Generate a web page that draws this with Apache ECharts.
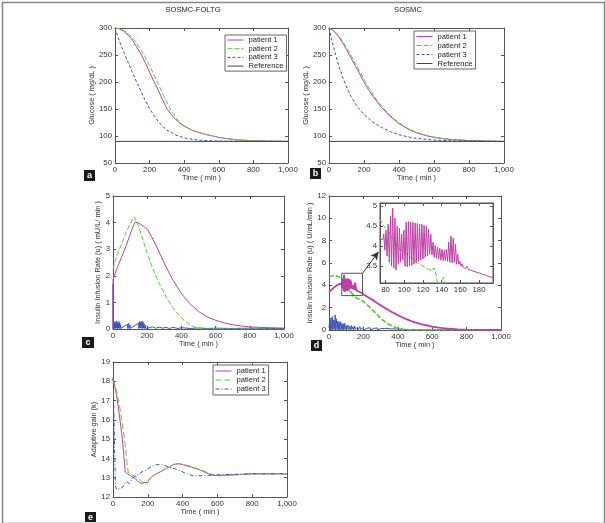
<!DOCTYPE html>
<html><head><meta charset="utf-8">
<script src="https://cdn.jsdelivr.net/npm/echarts@6/dist/echarts.min.js"></script>
<style>html,body{margin:0;padding:0;background:#fff}#c{width:605px;height:523px}</style>
</head><body><div id="c"></div>
<script>
// ---------------- DATA ----------------
const legendNames = ['patient 1','patient 2','patient 3','Reference'];
const glucoseRef = 90;
// Panel a : SOSMC-FOLTG glucose
const aP1 = [[0,300],[25,298.5],[50,294],[75,287],[100,278],[125,265],[150,252],[175,236],[200,218],[225,201],[250,185],[275,167],[300,151],[325,140],[350,131],[375,124],[400,118],[450,110],[500,105],[550,101],[600,97.5],[650,95],[700,93],[800,91.2],[900,90.4],[1000,90]];
const aP2 = [[0,300],[25,299],[50,296],[75,290],[100,282],[125,272],[150,259],[175,246],[200,230],[225,213],[250,196],[275,179],[300,162],[325,147],[350,135],[375,125],[400,119],[450,110],[500,105],[550,101],[600,97.5],[650,95],[700,93],[800,91.2],[900,90.4],[1000,90]];
const aP3 = [[0,300],[25,276],[50,256],[75,237],[100,218],[125,200],[150,183],[175,166],[200,151],[225,138],[250,127],[275,118],[300,111],[350,102],[400,96.5],[450,93.5],[500,92],[550,91],[600,90.5],[700,90.2],[800,90],[1000,90]];
// Panel b : SOSMC glucose
const bP1 = [[0,300],[25,295],[50,286],[75,274],[100,260],[125,245],[150,230],[175,215],[200,200],[225,186],[250,174],[275,163],[300,153],[350,136],[400,123],[450,113],[500,106],[550,101],[600,97.5],[650,95],[700,93.5],[800,91.5],[900,90.5],[1000,90]];
const bP2 = [[0,300],[25,296],[50,288],[75,277],[100,264],[125,250],[150,235],[175,220],[200,205],[225,191],[250,178],[275,166],[300,156],[350,138],[400,124.5],[450,114],[500,107],[550,101.5],[600,98],[650,95.5],[700,93.7],[800,91.5],[900,90.5],[1000,90]];
const bP3 = [[0,300],[20,272],[40,248],[60,226],[80,207],[100,191],[125,174],[150,160],[175,149],[200,140],[250,126],[300,116],[350,108],[400,102.5],[450,98.5],[500,95.5],[600,92.5],[700,91],[800,90.4],[1000,90]];
// Panel c : SOSMC-FOLTG insulin
const cP1 = [[0,0],[0.5,1.85],[10,2.05],[25,2.3],[50,2.7],[75,3.1],[100,3.55],[120,3.9],[130,4.02],[150,3.98],[175,3.88],[200,3.75],[225,3.48],[250,3.16],[275,2.82],[300,2.48],[325,2.15],[350,1.85],[375,1.58],[400,1.33],[450,0.95],[500,0.66],[550,0.46],[600,0.33],[650,0.23],[700,0.16],[750,0.11],[800,0.08],[900,0.05],[1000,0.03]];
const cP2 = [[0,2.25],[10,2.5],[25,2.8],[50,3.2],[75,3.6],[100,3.95],[125,4.22],[133,4.27],[150,3.85],[175,3.35],[200,2.85],[225,2.4],[250,2.0],[275,1.65],[300,1.35],[325,1.05],[350,0.8],[375,0.6],[400,0.42],[425,0.28],[450,0.16],[475,0.07],[500,0.02],[525,0],[1000,0]];
const cP3 = [[0,0],[0.5,1.7],[2,0.05],[8,0.22],[9,0.02],[12,0.28],[13,0.03],[16,0.18],[17,0.02],[20,0.3],[21,0.03],[25,0.25],[26,0.02],[30,0.2],[31,0.03],[35,0.28],[36,0.02],[40,0.22],[41,0.02],[45,0.15],[46,0.02],[85,0.18],[86,0.02],[92,0.22],[93,0.02],[100,0.15],[101,0.02],[150,0.22],[151,0.02],[156,0.28],[157,0.03],[162,0.25],[163,0.03],[170,0.3],[171,0.02],[176,0.26],[177,0.03],[182,0.2],[183,0.02],[190,0.15],[191,0.03],[200,0.1],[210,0.04],[230,0.08],[250,0.03],[270,0.07],[290,0.03],[310,0.06],[330,0.02],[350,0.06],[380,0.02],[400,0.05],[450,0.02],[500,0.04],[550,0.02],[600,0.03],[700,0.02],[800,0.03],[900,0.02],[1000,0.02]];
// Panel d : SOSMC insulin
const dP1 = [[0,3.4],[10,3.55],[25,3.75],[40,3.93],[55,4.08],[65,4.15],[74,4.17],[77,4.17],
[78,4.3],[79.2,3.9],[80.4,4.4],[81.6,3.75],[82.8,4.55],[84,3.6],[85.2,4.75],[86.4,3.5],[87.6,4.95],[88.8,3.45],[90,4.7],[91.2,3.4],[92.4,4.5],[93.6,3.55],[94.8,4.45],[96,3.6],[97.2,4.3],[98.4,3.65],[99.6,4.4],[100.8,3.5],[102,4.6],[103.2,3.48],[104.4,4.62],[105.6,3.5],[106.8,4.6],[108,3.52],[109.2,4.6],[110.4,3.55],[111.6,4.58],[112.8,3.58],[114,4.57],[115.2,3.62],[116.4,4.55],[117.6,3.65],[118.8,4.55],[120,3.68],[121.2,4.52],[122.4,3.72],[123.6,4.5],[124.8,3.76],[126,4.42],[127.2,3.8],[128.4,4.3],[129.6,3.78],[130.8,4.1],[132,3.72],[133.2,4.02],[134.4,3.7],[135.6,3.98],[136.8,3.68],[138,3.95],[139.2,3.65],[140.4,3.92],[141.6,3.64],[142.8,3.9],[144,3.64],[145.2,3.92],[146.4,3.62],[147.6,4.1],[148.8,3.6],[150,4.25],[151.2,3.58],[152.4,4.2],[153.6,3.6],[154.8,4.05],[156,3.55],[157.2,3.8],[158.4,3.55],[159.6,3.62],[160.8,3.5],[162,3.56],[163.2,3.47],[164.4,3.52],[165.6,3.44],[167,3.5],[168.5,3.42],[170,3.47],[171.5,3.4],[173,3.45],[174.5,3.37],[176,3.42],[177.5,3.35],[179,3.4],[180.5,3.33],[182,3.38],[183.5,3.3],[185,3.35],[186.5,3.28],[188,3.33],[189.5,3.25],[191,3.3],[192.5,3.23],[194,3.28],[195.5,3.22],
[200,3.2],[225,2.95],[250,2.72],[275,2.47],[300,2.22],[325,1.98],[350,1.75],[375,1.53],[400,1.33],[425,1.14],[450,0.97],[475,0.82],[500,0.69],[550,0.47],[600,0.31],[650,0.19],[700,0.11],[750,0.06],[800,0.03],[900,0.01],[1000,0]];
const dP2 = [[0,4.75],[10,4.85],[25,4.88],[40,4.85],[50,4.8],[60,4.74],[70,4.7],[74,4.67],[78,4.5],[82,4.42],[86,4.25],[90,4.12],[94,3.95],[98,3.88],[102,3.8],[106,3.72],[110,3.66],[114,3.58],[118,3.53],[122,3.47],[126,3.42],[130,3.38],[132,3.46],[134,3.3],[136,3.0],[138,2.92],[140,3.1],[142,3.22],[144,3.2],[146,2.96],[150,2.9],[175,2.76],[200,2.55],[225,2.2],[250,1.85],[275,1.45],[300,1.05],[325,0.75],[350,0.5],[375,0.3],[400,0.16],[425,0.06],[450,0.01],[475,0],[1000,0]];
const dP3 = [[0,0.2],[5,1.0],[7,0],[12,1.1],[14,0.05],[20,1.2],[22,0],[28,0.9],[30,0.05],[36,1.35],[38,0],[44,1.0],[46,0.05],[52,0.8],[54,0],[60,0.7],[62,0.05],[68,0.75],[70,0],[76,0.6],[78,0.05],[84,0.55],[86,0],[92,0.6],[94,0.05],[100,0.4],[102,0],[110,0.45],[112,0.05],[120,0.35],[122,0],[130,0.4],[132,0.05],[140,0.3],[142,0],[150,0.35],[152,0.05],[165,0.25],[167,0],[180,0.3],[182,0.05],[200,0.2],[202,0],[220,0.15],[222,0.05],[240,0.2],[242,0],[260,0.15],[262,0.03],[280,0.18],[282,0],[300,0.12],[302,0.03],[330,0.15],[332,0],[360,0.1],[362,0.03],[390,0.1],[392,0],[420,0.08],[422,0.02],[450,0.05],[480,0.02],[520,0.01],[1000,0]];
// Panel d inset range
const insetX = [74,195];
const insetY = [3.08,5.08];
const insetXTicks = [80,100,120,140,160,180];
const insetYTicks = [3.5,4,4.5,5];
// Panel e : adaptive gain
const eP1 = [[0,18.1],[10,17.75],[20,17.3],[30,16.7],[40,16.0],[50,15.3],[60,14.4],[70,13.3],[80,13.2],[100,13.1],[120,13.0],[140,12.85],[160,12.7],[170,12.65],[180,12.75],[190,12.65],[200,12.75],[210,12.95],[230,13.1],[250,13.2],[300,13.45],[350,13.7],[380,13.72],[400,13.68],[450,13.55],[500,13.4],[550,13.2],[575,13.12],[600,13.12],[650,13.13],[700,13.15],[800,13.2],[900,13.2],[1000,13.2]];
const eP2 = [[0,18.1],[10,17.85],[20,17.5],[30,17.1],[40,16.6],[50,16.0],[60,15.4],[70,14.7],[80,13.8],[88,13.25],[100,13.2],[120,13.1],[140,13.0],[160,12.85],[175,12.7],[185,12.65],[195,12.7],[210,12.95],[230,13.1],[250,13.2],[300,13.45],[350,13.7],[380,13.73],[400,13.7],[450,13.58],[500,13.42],[550,13.25],[590,13.1],[620,13.1],[700,13.15],[800,13.2],[1000,13.2]];
const eP3 = [[0,18.2],[3,17.5],[8,15],[14,12.6],[20,12.4],[40,12.42],[55,12.5],[65,12.6],[75,12.8],[85,12.85],[95,12.7],[105,12.75],[115,13.0],[130,13.1],[150,13.2],[175,13.35],[200,13.45],[225,13.6],[250,13.68],[275,13.68],[300,13.62],[350,13.48],[400,13.3],[430,13.18],[460,13.1],[500,13.1],[550,13.12],[600,13.15],[700,13.18],[800,13.2],[1000,13.2]];

// ---------------- STYLE / BUILD ----------------
const FONT = '"Liberation Sans", Arial, sans-serif';
const AX = '#555';
const C1 = '#bf3fa6', C2 = '#5ec83a', C3 = '#3a55b8', CR = '#444';
const xAxes = [], yAxes = [], grids = [], series = [];

function addGrid(g){ grids.push(Object.assign({outerBoundsMode:'none', containLabel:false}, g)); return grids.length-1; }
function axisBase(gi, min, max, interval, pos, show, zl){
  const o = {type:'value', gridIndex:gi, min, max, interval, position:pos,
    axisLine:{show:true,onZero:false,lineStyle:{color:AX,width:1}},
    axisTick:{show:true,inside:true,length:3,lineStyle:{color:AX}},
    axisLabel:{show:show,fontSize:7.8,color:'#333',margin:3,fontFamily:FONT},
    splitLine:{show:false}};
  if (zl) o.zlevel = zl;
  return o;
}
function addAxes(gi, xr, yr, xname, yname, yGap, zl){
  const xa = axisBase(gi, xr[0], xr[1], xr[2], 'bottom', true, zl);
  if (xname){ Object.assign(xa,{name:xname,nameLocation:'middle',nameGap:11,nameTextStyle:{fontSize:7.4,color:'#333',fontFamily:FONT}}); }
  const ya = axisBase(gi, yr[0], yr[1], yr[2], 'left', true, zl);
  if (yname){ Object.assign(ya,{name:yname,nameLocation:'middle',nameGap:yGap,nameTextStyle:{fontSize:7.4,color:'#333',fontFamily:FONT}}); }
  xAxes.push(xa); const xi = xAxes.length-1;
  xAxes.push(axisBase(gi, xr[0], xr[1], xr[2], 'top', false, zl));
  yAxes.push(ya); const yi = yAxes.length-1;
  yAxes.push(axisBase(gi, yr[0], yr[1], yr[2], 'right', false, zl));
  return [xi, yi];
}
function addLine(ax, name, data, color, type, width, extra){
  series.push(Object.assign({type:'line', name, data, xAxisIndex:ax[0], yAxisIndex:ax[1],
    symbol:'none', showSymbol:false, silent:true, animation:false,
    lineStyle:{color, type, width:width||1}, itemStyle:{color}}, extra||{}));
}

// a
const ga = addGrid({left:115, top:28, width:173, height:135});
const axa = addAxes(ga, [0,1000,200], [50,300,50], 'Time ( min )', 'Glucose ( mg/dL )', 16);
addLine(axa,'patient 1',aP1,C1,'solid');
addLine(axa,'patient 2',aP2,C2,[5,2]);
addLine(axa,'patient 3',aP3,C3,[3,2]);
addLine(axa,'Reference',[[0,glucoseRef],[1000,glucoseRef]],CR,'solid');
// b
const gb = addGrid({left:329, top:28, width:175, height:135});
const axb = addAxes(gb, [0,1000,200], [50,300,50], 'Time ( min )', 'Glucose ( mg/dL )', 17);
addLine(axb,'patient 1',bP1,C1,'solid');
addLine(axb,'patient 2',bP2,C2,[5,2]);
addLine(axb,'patient 3',bP3,C3,[3,2]);
addLine(axb,'Reference',[[0,glucoseRef],[1000,glucoseRef]],CR,'solid');
// c
const gc = addGrid({left:113, top:196, width:171, height:133});
const axc = addAxes(gc, [0,1000,200], [0,5,1], 'Time ( min )', 'Insulin Infusion Rate (u) ( mU/L/ min )', 12);
addLine(axc,'patient 3',cP3,C3,'solid');
addLine(axc,'patient 2',cP2,C2,[5,2]);
addLine(axc,'patient 1',cP1,C1,'solid');
// d
const gd = addGrid({left:329, top:196, width:172, height:134});
const axd = addAxes(gd, [0,1000,200], [0,12,2], 'Time ( min )', 'Insulin Infusion Rate (u) ( U/mL/min )', 13);
addLine(axd,'patient 3',dP3,C3,'solid');
addLine(axd,'patient 2',dP2,C2,[5,2],1.7);
addLine(axd,'patient 1',dP1,C1,'solid',1.8);
addLine(axd,'',[[insetX[0],insetY[0]],[insetX[1],insetY[0]],[insetX[1],insetY[1]],[insetX[0],insetY[1]],[insetX[0],insetY[0]]],'#555','solid',1,
  {markLine:{silent:true,symbol:['none','arrow'],symbolSize:[6,8],label:{show:false},lineStyle:{color:'#333',type:'solid',width:1},
   data:[[{coord:[insetX[1],insetY[1]]},{coord:[288,7.0]}]]}});
// inset
const gi = addGrid({left:380, top:203, width:113, height:80, show:true, backgroundColor:'#fff', borderColor:AX, borderWidth:1, zlevel:1});
const axi = addAxes(gi, [insetX[0],insetX[1],20], [insetY[0],insetY[1],0.5], null, null, 0, 1);
xAxes[axi[0]].interval = undefined; yAxes[axi[1]].interval = undefined;
xAxes[axi[0]].axisLabel.customValues = insetXTicks; xAxes[axi[0]].axisTick.customValues = insetXTicks;
xAxes[axi[0]+1].axisTick.customValues = insetXTicks; xAxes[axi[0]+1].interval = undefined;
yAxes[axi[1]].axisLabel.customValues = insetYTicks; yAxes[axi[1]].axisTick.customValues = insetYTicks;
yAxes[axi[1]+1].axisTick.customValues = insetYTicks; yAxes[axi[1]+1].interval = undefined;
addLine(axi,'patient 2',dP2,C2,[5,2],1,{zlevel:1});
addLine(axi,'patient 1',dP1,C1,'solid',1,{zlevel:1});
// e
const ge = addGrid({left:113, top:362, width:174, height:135});
const axe = addAxes(ge, [0,1000,200], [12,19,1], 'Time ( min )', 'Adaptive gain (k)', 13);
addLine(axe,'patient 1',eP1,C1,'solid');
addLine(axe,'patient 2',eP2,C2,[6,3]);
addLine(axe,'patient 3',eP3,C3,[4,2,1,2]);

const hideSym = {color:'rgba(0,0,0,0)', borderColor:'rgba(0,0,0,0)', borderWidth:0, opacity:0};
const legBase = {orient:'vertical', selectedMode:false, itemWidth:16, itemHeight:8,
  backgroundColor:'#fff', borderColor:'#666', borderWidth:1, borderRadius:0,
  itemStyle:hideSym, lineStyle:{width:1},
  textStyle:{fontSize:7.6,color:'#222',fontFamily:FONT,lineHeight:8}};
const legends = [
  Object.assign({}, legBase, {left:225, top:35, itemGap:0.7, padding:[1,3,1,2], data:legendNames}),
  Object.assign({}, legBase, {left:414, top:31, itemGap:1, padding:[1.5,3,1.5,2], data:legendNames}),
  Object.assign({}, legBase, {left:213, top:365, itemGap:1, padding:[2,3,2,2],
    data:['patient 1',{name:'patient 2',lineStyle:{type:[6,3]}},{name:'patient 3',lineStyle:{type:[4,2,1,2]}}]})
];

function tag(x,y,w,h,t){
  return {type:'group', left:x, top:y, children:[
    {type:'rect', shape:{x:0,y:0,width:w,height:h}, style:{fill:'#1a1a1a'}},
    {type:'text', x:w/2, y:h/2+0.5, style:{text:t, fill:'#fff', font:'bold 9px '+FONT, align:'center', verticalAlign:'middle'}}
  ]};
}
const graphic = [
  {type:'rect', left:0, top:0, shape:{x:0.5,y:0.5,width:602,height:521}, style:{fill:'none', stroke:'#888', lineWidth:1.5}, silent:true},
  {type:'text', x:193, y:10, style:{text:'SOSMC-FOLTG', fill:'#222', font:'7.6px '+FONT, align:'center', verticalAlign:'middle'}},
  {type:'text', x:408, y:10, style:{text:'SOSMC', fill:'#222', font:'7.6px '+FONT, align:'center', verticalAlign:'middle'}},
  tag(84,170,11,11,'a'), tag(310,168,11,11,'b'), tag(82,337,12,11,'c'), tag(311,340,11,11,'d'), tag(85,512,11,10,'e')
];

const chart = echarts.init(document.getElementById('c'), null, {renderer:'canvas'});
chart.setOption({animation:false, backgroundColor:'#fff', grid:grids, xAxis:xAxes, yAxis:yAxes, series, legend:legends, graphic});
</script></body></html>
